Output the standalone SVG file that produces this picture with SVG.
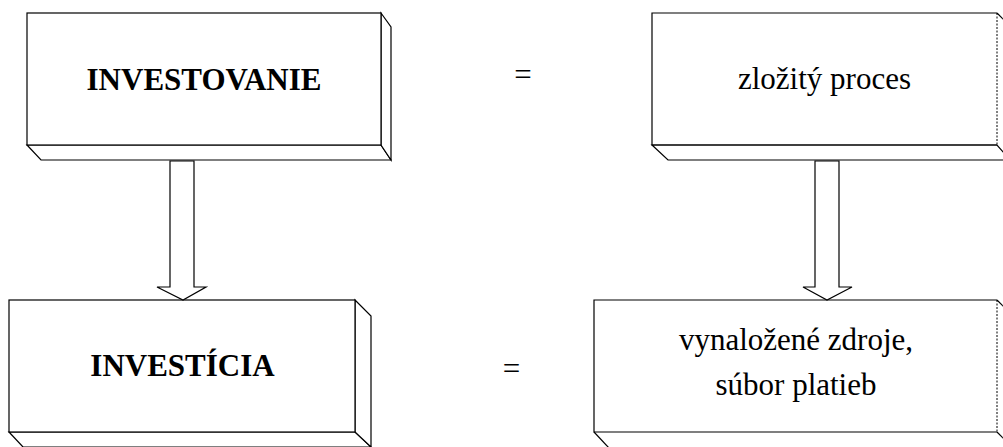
<svg xmlns="http://www.w3.org/2000/svg" width="1003" height="447" viewBox="0 0 1003 447">
  <style>
    .edge { fill: none; stroke: #000; stroke-width: 1.2; stroke-linejoin: miter; }
    .face { fill: #fff; stroke: #000; stroke-width: 1.2; }
    .dash { fill: none; stroke: #000; stroke-width: 1; stroke-dasharray: 2 1.5; }
    .arrow { fill: #fff; stroke: #000; stroke-width: 1.2; }
    .bold { font-family: "Liberation Serif", "Times New Roman", serif; font-weight: bold; font-size: 31px; text-anchor: middle; fill: #000; }
    .reg { font-family: "Liberation Serif", "Times New Roman", serif; font-size: 31px; text-anchor: middle; fill: #000; }
  </style>
  <rect width="1003" height="447" fill="#fff"/>

  <!-- box: INVESTOVANIE -->
  <g id="investovanie">
    <polygon class="face" points="27,145 41,160 391,160 381,145"/>
    <polygon class="face" points="381,13 391,27 391,160 381,145"/>
    <rect class="face" x="27" y="13" width="354" height="132"/>
    <text class="bold" x="204" y="90">INVESTOVANIE</text>
  </g>

  <!-- box: INVESTÍCIA -->
  <g id="investicia">
    <polygon class="face" points="9,432 23,447 371,447 355,432"/>
    <polygon class="face" points="355,300 371,316 371,447 355,432"/>
    <rect class="face" x="9" y="300" width="346" height="132"/>
    <text class="bold" x="182.5" y="376">INVESTÍCIA</text>
  </g>

  <!-- box: zložitý proces -->
  <g id="proces">
    <polygon class="face" points="652,145 668,160 1010,160 997,145"/>
    <path class="edge" d="M997,13 L1004,20"/>
    <path class="edge" d="M997,13 L652,13 L652,145 L997,145"/>
    <path class="dash" d="M997,13 L997,145"/>
    <text class="reg" x="824.5" y="89">zložitý proces</text>
  </g>

  <!-- box: vynaložené zdroje -->
  <g id="zdroje">
    <path class="edge" d="M594,432 L609,448"/>
    <path class="edge" d="M997,300 L1004,307"/>
    <path class="edge" d="M997,432 L1004,439"/>
    <path class="edge" d="M997,300 L594,300 L594,432 L997,432"/>
    <path class="dash" d="M997,300 L997,432"/>
    <text class="reg" x="796" y="350">vynaložené zdroje,</text>
    <text class="reg" x="796" y="395">súbor platieb</text>
  </g>

  <!-- equals signs -->
  <g id="eq-top"><text class="reg" x="523" y="85">=</text></g>
  <g id="eq-bottom"><text class="reg" x="511.5" y="379">=</text></g>

  <!-- connectors: block arrows -->
  <g id="connectors">
    <polygon class="arrow" points="170,161 194,161 194,287 206,287 183,300 157,287 170,287"/>
    <polygon class="arrow" points="815,161 839,161 839,287 852,287 827,300 803,287 815,287"/>
  </g>
</svg>
